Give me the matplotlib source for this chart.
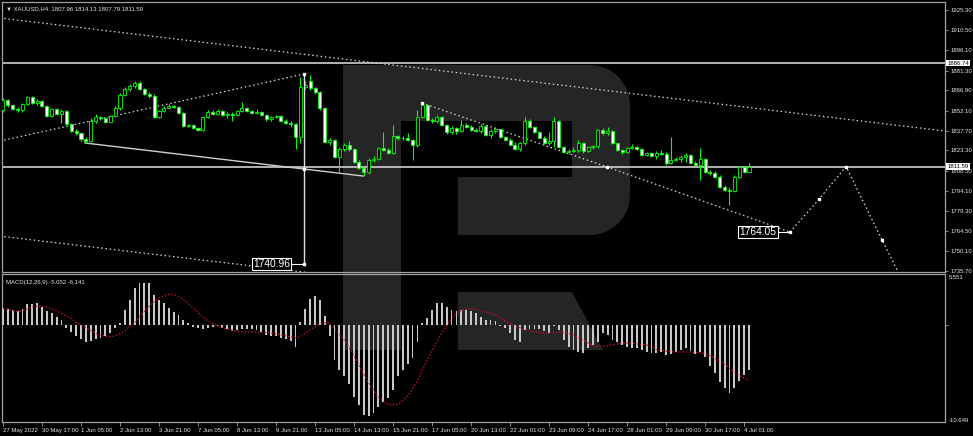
import numpy as np
import matplotlib
matplotlib.use("Agg")
import matplotlib.pyplot as plt
import matplotlib.transforms as mtransforms
from matplotlib.patches import Polygon

# XAUUSD H4 candles, 27 May 2022 - 4 Jul 2022
opens = [1852.7, 1860.0, 1856.0, 1853.5, 1852.5, 1856.8, 1861.9, 1857.5, 1859.5, 1855.8,
         1848.3, 1853.2, 1850.0, 1851.8, 1842.5, 1837.7, 1836.0, 1831.5, 1830.5, 1844.9,
         1847.8, 1846.5, 1844.2, 1848.3, 1853.9, 1863.6, 1867.7, 1870.1, 1872.1, 1868.0,
         1864.1, 1862.9, 1847.8, 1852.0, 1854.4, 1855.5, 1854.8, 1850.3, 1841.1, 1841.8,
         1839.5, 1838.2, 1847.4, 1851.5, 1850.0, 1852.0, 1849.1, 1849.6, 1849.0, 1852.0,
         1854.4, 1852.0, 1850.7, 1851.2, 1849.1, 1845.9, 1847.4, 1848.3, 1845.0, 1843.5,
         1842.3, 1833.3, 1869.6, 1874.0, 1868.4, 1865.5, 1853.9, 1829.7, 1830.9, 1818.8,
         1824.5, 1827.5, 1824.0, 1815.2, 1810.3, 1807.5, 1816.4, 1817.2, 1824.8, 1823.8,
         1821.2, 1833.5, 1832.0, 1832.4, 1830.8, 1827.3, 1847.8, 1856.5, 1845.4, 1844.4,
         1847.4, 1841.8, 1836.9, 1839.9, 1837.4, 1841.8, 1840.6, 1838.2, 1837.5, 1841.3,
         1834.5, 1837.7, 1838.6, 1833.3, 1831.2, 1827.5, 1824.3, 1828.4, 1845.0, 1840.0,
         1836.9, 1832.5, 1828.5, 1830.5, 1844.6, 1826.0, 1822.4, 1822.8, 1823.5, 1828.9,
         1823.0, 1825.6, 1826.3, 1838.1, 1836.0, 1837.5, 1828.5, 1823.6, 1822.0, 1824.9,
         1825.6, 1824.5, 1820.0, 1821.5, 1819.0, 1821.7, 1821.0, 1814.0, 1816.4, 1817.2,
         1818.8, 1820.0, 1814.5, 1813.0, 1816.9, 1807.9, 1807.0, 1804.3, 1797.0, 1794.6,
         1794.0, 1804.3, 1811.0, 1807.96]
highs = [1861.5, 1860.5, 1857.0, 1854.5, 1857.5, 1863.0, 1863.0, 1860.5, 1860.0, 1856.5,
         1854.0, 1853.8, 1853.5, 1852.5, 1843.5, 1839.0, 1836.8, 1833.0, 1847.0, 1849.5,
         1848.5, 1847.5, 1849.0, 1855.5, 1865.0, 1869.5, 1871.5, 1874.0, 1873.5, 1869.0,
         1865.5, 1864.0, 1853.0, 1855.5, 1857.0, 1856.5, 1855.5, 1851.0, 1842.5, 1842.5,
         1840.5, 1848.5, 1853.0, 1852.5, 1853.5, 1852.8, 1851.0, 1851.0, 1853.0, 1858.5,
         1855.0, 1853.0, 1853.5, 1851.8, 1850.0, 1848.5, 1849.2, 1849.0, 1846.0, 1844.5,
         1843.0, 1876.5, 1873.5, 1878.0, 1869.5, 1866.5, 1855.0, 1832.5, 1831.5, 1826.0,
         1829.0, 1830.0, 1825.0, 1816.0, 1811.5, 1817.5, 1819.5, 1826.0, 1836.9, 1825.0,
         1841.8, 1834.5, 1834.0, 1836.0, 1831.5, 1852.7, 1857.5, 1857.0, 1846.5, 1849.0,
         1848.0, 1842.5, 1841.0, 1840.5, 1845.4, 1843.0, 1841.5, 1839.5, 1842.5, 1842.0,
         1839.0, 1840.0, 1839.0, 1834.0, 1832.0, 1829.5, 1829.5, 1847.4, 1845.8, 1841.0,
         1837.5, 1834.0, 1837.0, 1847.4, 1845.5, 1826.8, 1824.5, 1825.5, 1831.0, 1829.5,
         1826.5, 1827.5, 1839.0, 1839.5, 1840.5, 1838.0, 1829.0, 1824.5, 1826.0, 1828.0,
         1826.8, 1825.2, 1822.5, 1822.0, 1823.0, 1823.5, 1821.8, 1833.3, 1818.5, 1820.0,
         1821.5, 1820.8, 1815.5, 1824.9, 1818.0, 1809.0, 1808.0, 1805.5, 1798.0, 1796.5,
         1805.5, 1812.0, 1812.0, 1814.13]
lows = [1851.5, 1855.0, 1852.5, 1851.5, 1851.5, 1856.0, 1857.0, 1856.5, 1855.0, 1847.5,
        1847.5, 1849.0, 1843.5, 1842.0, 1837.0, 1834.5, 1830.5, 1828.5, 1829.5, 1843.5,
        1845.5, 1843.5, 1843.8, 1847.5, 1853.0, 1862.5, 1866.8, 1868.5, 1867.0, 1863.5,
        1861.5, 1846.5, 1846.8, 1851.5, 1853.5, 1853.8, 1849.5, 1840.5, 1840.0, 1838.8,
        1837.5, 1837.5, 1846.8, 1849.0, 1849.0, 1848.5, 1846.5, 1845.0, 1848.2, 1851.5,
        1851.0, 1849.8, 1850.0, 1848.3, 1845.0, 1844.8, 1846.8, 1844.2, 1842.5, 1840.0,
        1824.1, 1828.5, 1868.0, 1867.5, 1864.0, 1853.0, 1829.0, 1827.5, 1818.0, 1807.9,
        1823.0, 1823.0, 1814.0, 1809.5, 1804.8, 1806.0, 1815.0, 1816.5, 1822.8, 1820.5,
        1820.5, 1830.8, 1830.8, 1829.8, 1816.4, 1825.5, 1846.5, 1844.5, 1843.0, 1843.5,
        1841.0, 1835.5, 1835.0, 1835.5, 1836.5, 1839.8, 1837.5, 1836.5, 1836.2, 1833.8,
        1832.5, 1836.2, 1832.5, 1830.5, 1827.0, 1823.5, 1823.0, 1827.5, 1839.3, 1836.0,
        1832.0, 1827.8, 1827.5, 1826.1, 1825.0, 1821.5, 1821.0, 1821.8, 1822.4, 1821.5,
        1822.5, 1824.6, 1825.0, 1834.5, 1834.5, 1828.0, 1822.8, 1821.0, 1821.5, 1824.0,
        1823.5, 1819.5, 1819.0, 1818.3, 1817.0, 1820.2, 1813.0, 1813.5, 1815.5, 1815.0,
        1815.2, 1814.0, 1812.0, 1801.9, 1807.0, 1805.5, 1803.5, 1796.0, 1793.5, 1783.7,
        1793.0, 1803.5, 1806.8, 1807.79]
closes = [1860.0, 1856.0, 1853.5, 1852.5, 1856.8, 1861.9, 1857.5, 1859.5, 1855.8, 1848.3,
          1853.2, 1850.0, 1851.8, 1842.5, 1837.7, 1836.0, 1831.5, 1830.5, 1844.9, 1847.8,
          1846.5, 1844.2, 1848.3, 1853.9, 1863.6, 1867.7, 1870.1, 1872.1, 1868.0, 1864.1,
          1862.9, 1847.8, 1852.0, 1854.4, 1855.5, 1854.8, 1850.3, 1841.1, 1841.8, 1839.5,
          1838.2, 1847.4, 1851.5, 1850.0, 1852.0, 1849.1, 1849.6, 1849.0, 1852.0, 1854.4,
          1852.0, 1850.7, 1851.2, 1849.1, 1845.9, 1847.4, 1848.3, 1845.0, 1843.5, 1842.3,
          1833.3, 1869.6, 1871.0, 1868.4, 1865.5, 1853.9, 1829.7, 1830.9, 1818.8, 1824.5,
          1827.5, 1824.0, 1815.2, 1810.3, 1807.5, 1816.4, 1817.2, 1824.8, 1823.8, 1821.2,
          1833.5, 1832.0, 1832.4, 1830.8, 1827.3, 1847.8, 1856.5, 1845.4, 1844.4, 1847.4,
          1841.8, 1836.9, 1839.9, 1837.4, 1841.8, 1840.6, 1838.2, 1837.5, 1841.3, 1834.5,
          1837.7, 1838.6, 1833.3, 1831.2, 1827.5, 1824.3, 1828.4, 1845.0, 1840.0, 1836.9,
          1832.5, 1828.5, 1830.5, 1844.6, 1826.0, 1822.4, 1822.8, 1823.5, 1828.9, 1823.0,
          1825.6, 1826.3, 1838.1, 1836.0, 1837.5, 1828.5, 1823.6, 1822.0, 1824.9, 1825.6,
          1824.5, 1820.0, 1821.5, 1819.0, 1821.7, 1821.0, 1814.0, 1816.4, 1817.2, 1818.8,
          1820.0, 1814.5, 1813.0, 1816.9, 1807.9, 1807.0, 1804.3, 1797.0, 1794.6, 1794.0,
          1804.3, 1811.0, 1807.96, 1811.59]

# MACD(12,26,9): main line (histogram) and signal line
macd_main = [1.92, 1.74, 1.66, 1.59, 1.74, 2.29, 2.29, 2.40, 1.96, 1.59,
             1.29, 0.92, 0.55, -0.30, -0.80, -1.20, -1.60, -1.90, -1.80, -1.60,
             -1.40, -1.20, -0.90, -0.30, 0.20, 1.66, 2.77, 4.07, 4.63, 4.70,
             4.63, 3.33, 2.77, 2.40, 1.85, 1.48, 1.11, 0.55, 0.18, -0.18,
             -0.37, -0.50, -0.30, -0.20, -0.10, -0.30, -0.50, -0.70, -0.60, -0.40,
             -0.40, -0.50, -0.60, -0.80, -1.10, -1.20, -1.20, -1.40, -1.60, -1.80,
             -2.40, 0.30, 1.80, 2.90, 3.20, 2.80, 1.00, -1.20, -3.90, -5.00,
             -5.70, -6.50, -8.00, -8.90, -10.00, -10.10, -9.80, -9.10, -8.50, -8.10,
             -7.20, -5.70, -5.00, -4.30, -3.70, -1.90, 0.20, 0.80, 1.70, 2.40,
             2.40, 2.00, 1.70, 1.50, 1.70, 1.70, 1.50, 1.30, 0.90, 0.60,
             0.60, 0.40, -0.10, -0.30, -0.90, -1.70, -1.90, -0.60, -0.40, -0.40,
             -0.50, -0.70, -0.90, -0.10, -0.60, -1.70, -2.40, -2.80, -3.00, -3.10,
             -2.60, -2.20, -1.90, -0.90, -1.10, -1.70, -1.90, -2.20, -2.40, -2.60,
             -2.60, -2.80, -3.00, -3.10, -3.10, -3.00, -3.30, -3.20, -3.00, -2.80,
             -2.60, -2.90, -3.20, -3.00, -3.60, -4.50, -5.30, -6.30, -7.00, -7.60,
             -7.00, -6.20, -5.60, -5.052]
macd_signal = [1.85, 1.75, 1.60, 1.50, 1.60, 1.80, 2.00, 2.10, 2.10, 2.00,
               1.80, 1.60, 1.30, 1.00, 0.70, 0.30, 0.00, -0.30, -0.60, -0.90,
               -1.10, -1.25, -1.30, -1.20, -1.00, -0.60, -0.20, 0.20, 0.90, 1.50,
               2.10, 2.60, 3.00, 3.30, 3.40, 3.35, 3.20, 2.80, 2.40, 1.90,
               1.40, 0.90, 0.50, 0.20, -0.10, -0.30, -0.45, -0.60, -0.70, -0.75,
               -0.80, -0.80, -0.80, -0.80, -0.85, -0.90, -1.00, -1.10, -1.20, -1.30,
               -1.45, -1.30, -0.90, -0.50, -0.20, 0.10, 0.25, 0.20, -0.40, -1.00,
               -1.70, -2.50, -3.40, -4.40, -5.50, -6.40, -7.30, -8.00, -8.50, -8.80,
               -8.90, -8.80, -8.40, -7.90, -7.10, -6.20, -5.00, -3.90, -2.90, -1.80,
               -0.90, -0.10, 0.70, 1.30, 1.60, 1.80, 1.80, 1.75, 1.60, 1.45,
               1.30, 1.10, 0.80, 0.50, 0.20, -0.10, -0.30, -0.50, -0.60, -0.75,
               -0.85, -0.90, -0.90, -0.85, -0.80, -0.85, -0.95, -1.15, -1.40, -1.70,
               -2.00, -2.30, -2.40, -2.35, -2.30, -2.20, -2.10, -2.00, -2.00, -2.00,
               -2.10, -2.15, -2.20, -2.40, -2.70, -2.80, -2.90, -2.95, -3.00, -3.00,
               -3.00, -3.00, -3.05, -3.10, -3.20, -3.40, -3.70, -4.00, -4.40, -4.80,
               -5.20, -5.60, -5.90, -6.141]

price_ticks = [1925.30, 1910.50, 1896.10, 1881.30, 1866.90, 1852.10, 1837.70,
               1823.30, 1808.50, 1794.10, 1779.30, 1764.50, 1750.10, 1735.70]
date_labels = ['27 May 2022', '30 May 17:00', '1 Jun 05:00', '2 Jun 13:00', '3 Jun 21:00',
               '7 Jun 05:00', '8 Jun 13:00', '9 Jun 21:00', '13 Jun 05:00', '14 Jun 13:00',
               '15 Jun 21:00', '17 Jun 05:00', '20 Jun 13:00', '22 Jun 01:00', '23 Jun 09:00',
               '24 Jun 17:00', '28 Jun 01:00', '29 Jun 09:00', '30 Jun 17:00', '4 Jul 01:00']
level_lines = [1886.74, 1811.59]

# analyst drawings: (bar index, price) anchors
upper_chan_x, upper_chan_y = [-0.62, 193.2], [1919.5, 1837.4]
lower_chan_x, lower_chan_y = [-0.62, 70.2], [1761.1, 1731.4]
rise_x, rise_y = [-0.62, 61.74], [1830.1, 1878.8]
base_x, base_y = [16.8, 73.85], [1828.7, 1804.7]
vert_x, vert_y = [61.74, 61.74, 61.74], [1878.8, 1809.8, 1740.96]
desc_x, desc_y = [85.95, 123.9, 161.4], [1857.7, 1811.3, 1764.05]
fc_x, fc_y = [161.4, 167.4, 172.9, 180.3, 185.0], [1764.05, 1788.0, 1811.59, 1758.2, 1725.0]

GREEN = '#00ff00'
GRID = '#a0a0a0'
TXT = '#e6e6e6'
FAM = ['Liberation Sans', 'DejaVu Sans']
W, H = 973, 436

fig = plt.figure(figsize=(W / 100, H / 100), dpi=100, facecolor='black')

# logo watermark behind the chart
bg = fig.add_axes([0, 0, 1, 1])
bg.set_xlim(0, W)
bg.set_ylim(H, 0)
bg.axis('off')
wm = '#252525'
a1 = np.linspace(-np.pi / 2, 0, 12)
a2 = np.linspace(0, np.pi / 2, 12)
bowl = [(343, 65)] + [(590 + 40 * np.cos(a), 105 + 40 * np.sin(a)) for a in a1] \
    + [(590 + 40 * np.cos(a), 195 + 40 * np.sin(a)) for a in a2] \
    + [(458, 235), (458, 177), (572, 177), (572, 121), (401, 121), (401, 350), (343, 350)]
bg.add_patch(Polygon(bowl, closed=True, facecolor=wm, edgecolor='none'))
bg.add_patch(Polygon([(458, 292), (572, 292), (603, 350), (458, 350)], closed=True,
                     facecolor=wm, edgecolor='none'))


def box(l, t, r, b):
    return [l / W, 1 - b / H, (r - l) / W, (b - t) / H]


ax = fig.add_axes(box(2, 2, 945, 272), facecolor='none')
ax2 = fig.add_axes(box(2, 274, 945, 422), facecolor='none')
for a in (ax, ax2):
    a.set_xlim(-0.2, 193.2)
    for s in a.spines.values():
        s.set_color(GRID)
        s.set_linewidth(0.9)

ax.set_ylim(1735.0, 1931.1)
ax2.set_ylim(-10.77, 5.66)

idx = np.arange(len(closes))
o = np.array(opens)
c = np.array(closes)
bull = c >= o

# candles
ax.vlines(idx, lows, highs, color=GREEN, lw=0.8, zorder=3)
ax.bar(idx, np.maximum(np.abs(c - o), 0.35), bottom=np.minimum(o, c), width=0.62,
       color=np.where(bull, 'black', 'white'), edgecolor=GREEN, linewidth=0.6, zorder=4)

# horizontal levels
for lv in level_lines:
    ax.axhline(lv, color='#d0d0d0', lw=1.2, zorder=2)

dot = (0, (1.2, 2.2))
lc = '#d8d8d8'
ms = 1.7
ax.plot(upper_chan_x, upper_chan_y, color=lc, lw=0.9, ls=dot, zorder=2)
ax.plot(lower_chan_x, lower_chan_y, color=lc, lw=0.9, ls=dot, zorder=2)
ax.plot(rise_x, rise_y, color=lc, lw=0.9, ls=dot, zorder=2)
ax.plot(base_x, base_y, color='#d0d0d0', lw=1.0, zorder=2)
ax.plot(vert_x, vert_y, color='#e0e0e0', lw=1.0, zorder=5)
ax.plot(vert_x, vert_y, 's', color='white', ms=ms, zorder=6)
ax.plot(desc_x, desc_y, color=lc, lw=0.9, ls=dot, zorder=2)
ax.plot(desc_x, desc_y, 's', color='white', ms=ms, zorder=6)
ax.plot(fc_x, fc_y, color=lc, lw=0.9, ls=dot, zorder=2)
ax.plot(fc_x[1:4], fc_y[1:4], 's', color='white', ms=ms, zorder=6)

# price labels on drawings
lab = dict(color='white', fontsize=7.4, family=FAM, va='center', ha='right', zorder=7,
           bbox=dict(boxstyle='square,pad=0.12', facecolor='black', edgecolor='white', lw=0.8))
ax.text(58.9, vert_y[2], f'{vert_y[2]:.2f}', **lab)
ax.plot([58.9, vert_x[2]], [vert_y[2], vert_y[2]], color='white', lw=0.8, zorder=5)
ax.text(158.6, desc_y[2], f'{desc_y[2]:.2f}', **lab)
ax.plot([158.6, desc_x[2]], [desc_y[2], desc_y[2]], color='white', lw=0.8, zorder=5)

# right price axis
ax.yaxis.tick_right()
ax.set_yticks(price_ticks)
ax.set_yticklabels([f'{v:.2f}' for v in price_ticks], family=FAM)
ax.tick_params(axis='y', colors=GRID, labelcolor=TXT, labelsize=4.3, length=2.5, width=0.6, pad=1.5)
ax.tick_params(axis='x', bottom=False, labelbottom=False)
tr = mtransforms.blended_transform_factory(ax.transAxes, ax.transData)
for lv in level_lines:
    ax.text(1.0025, lv, f'{lv:.2f}', transform=tr, fontsize=4.3, family=FAM, color='black',
            va='center', ha='left', clip_on=False, zorder=8,
            bbox=dict(boxstyle='square,pad=0.15', facecolor='white', edgecolor='none'))

ax.text(0.004, 0.985, '\u25bc XAUUSD,H4  1807.96 1814.13 1807.79 1811.59', transform=ax.transAxes,
        color=TXT, fontsize=4.3, family=FAM, va='top', ha='left')

# MACD panel
ax2.bar(idx, macd_main, width=0.38, color='#c8c8c8', linewidth=0, zorder=3)
ax2.plot(idx, macd_signal, color='#d0102a', lw=0.9, ls=(0, (1.2, 1.5)), zorder=4)
ax2.text(0.004, 0.96, 'MACD(12,26,9) -5.052 -6.141', transform=ax2.transAxes,
         color=TXT, fontsize=4.3, family=FAM, va='top', ha='left')
ax2.yaxis.tick_right()
ax2.set_yticks([0])
ax2.set_yticklabels([''])
ax2.tick_params(axis='y', colors=GRID, length=2.5, width=0.6)
tr2 = mtransforms.blended_transform_factory(ax2.transAxes, ax2.transData)
ax2.text(1.004, 5.551, '5.551', transform=tr2, fontsize=4.3, family=FAM, color=TXT,
         va='top', ha='left', clip_on=False)
ax2.text(1.004, -10.649, '-10.649', transform=tr2, fontsize=4.3, family=FAM, color=TXT,
         va='center', ha='left', clip_on=False)

ax2.set_xticks(np.arange(0, 8 * len(date_labels), 8))
ax2.set_xticklabels(date_labels, family=FAM, ha='left')
ax2.tick_params(axis='x', colors=GRID, labelcolor=TXT, labelsize=4.3, length=3, width=0.6, pad=1.5)

fig.savefig('out.png', dpi=100, facecolor='black')
